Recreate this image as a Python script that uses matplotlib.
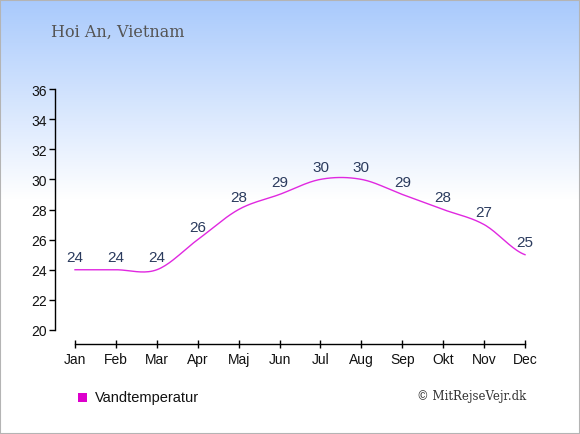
import numpy as np
import matplotlib
matplotlib.use("Agg")
import matplotlib.pyplot as plt
from matplotlib.patches import Rectangle

# Data
months = ['Jan', 'Feb', 'Mar', 'Apr', 'Maj', 'Jun', 'Jul', 'Aug', 'Sep', 'Okt', 'Nov', 'Dec']
water_temp = [24, 24, 24, 26, 28, 29, 30, 30, 29, 28, 27, 25]
yticks = [20, 22, 24, 26, 28, 30, 32, 34, 36]

title = 'Hoi An, Vietnam'
legend_label = 'Vandtemperatur'
credit = '\u00a9 MitRejseVejr.dk'

W, H = 580, 435
fig = plt.figure(figsize=(W / 100, H / 100), dpi=100)

# background gradient (light blue at top fading to white)
bg = fig.add_axes([0, 0, 1, 1], zorder=-10)
bg.set_axis_off()
rows = np.linspace(0, 1, H)
fade = np.clip(rows / (200 / H), 0, 1)
top = np.array([0.66, 0.79, 0.99])
grad = top[None, :] * (1 - fade[:, None]) + np.ones(3)[None, :] * fade[:, None]
img = np.repeat(grad[:, None, :], 10, axis=1)
bg.imshow(img, aspect='auto', extent=[0, 1, 0, 1], origin='upper')
bg.set_xlim(0, 1)
bg.set_ylim(0, 1)
bg.add_patch(Rectangle((0.0008, 0.001), 0.9984, 0.997, fill=False,
                       edgecolor='#b4b4b4', linewidth=1.5))


# smooth curve through the points (Catmull-Rom)
def catmull_rom(xs, ys, n=20):
    xs = np.asarray(xs, float)
    ys = np.asarray(ys, float)
    px = np.concatenate([[2 * xs[0] - xs[1]], xs, [2 * xs[-1] - xs[-2]]])
    py = np.concatenate([[ys[0]], ys, [ys[-1]]])
    outx, outy = [], []
    for i in range(1, len(px) - 2):
        t = np.linspace(0, 1, n, endpoint=False)
        for p, out in ((px, outx), (py, outy)):
            p0, p1, p2, p3 = p[i - 1], p[i], p[i + 1], p[i + 2]
            out.extend(0.5 * ((2 * p1) + (-p0 + p2) * t
                              + (2 * p0 - 5 * p1 + 4 * p2 - p3) * t ** 2
                              + (-p0 + 3 * p1 - 3 * p2 + p3) * t ** 3))
    outx.append(xs[-1])
    outy.append(ys[-1])
    return np.array(outx), np.array(outy)


x = np.arange(len(months))
ax = fig.add_axes([55 / W, (H - 331) / H, (525 - 55) / W, 241 / H])
ax.patch.set_alpha(0)

cx, cy = catmull_rom(x, water_temp)
ax.plot(cx, cy, color='#e028e0', linewidth=1.0, clip_on=False)

for xi, v in zip(x, water_temp):
    ax.text(xi, v + 0.55, str(v), ha='center', va='baseline', fontsize=11,
            color='#2b3b5e', family='Liberation Sans')

ax.set_xlim(-20 / 40.9, 11)
ax.set_ylim(20, 36)
ax.set_yticks(yticks)
ax.set_xticks(x)
ax.set_xticklabels(months)

for s in ('top', 'right'):
    ax.spines[s].set_visible(False)
ax.spines['bottom'].set_position(('outward', 10))
ax.spines['bottom'].set_bounds(0, 11)
ax.spines['left'].set_linewidth(1.0)
ax.spines['bottom'].set_linewidth(1.0)
ax.tick_params(axis='y', direction='out', length=4, width=1, labelsize=10, pad=2)
ax.tick_params(axis='x', direction='inout', length=6, width=1, labelsize=10, pad=3)
for lab in ax.get_xticklabels() + ax.get_yticklabels():
    lab.set_family('Liberation Sans')
    lab.set_color('#111111')

# title, legend and credit
fig.text(51 / W, 1 - 32 / H, title, ha='left', va='center', fontsize=11.5,
         family='DejaVu Serif', color='#555555')
fig.patches.append(Rectangle((78 / W, 1 - 403 / H), 9 / W, 9 / H,
                             transform=fig.transFigure, facecolor='#dd00cc',
                             edgecolor='none'))
fig.text(95 / W, 1 - 398 / H, legend_label, ha='left', va='center', fontsize=10.5,
         family='Liberation Sans', color='#111111')
fig.text(526 / W, 1 - 397 / H, credit, ha='right', va='center', fontsize=8.5,
         family='DejaVu Serif', color='#333333')

fig.savefig('out.png', dpi=100)
